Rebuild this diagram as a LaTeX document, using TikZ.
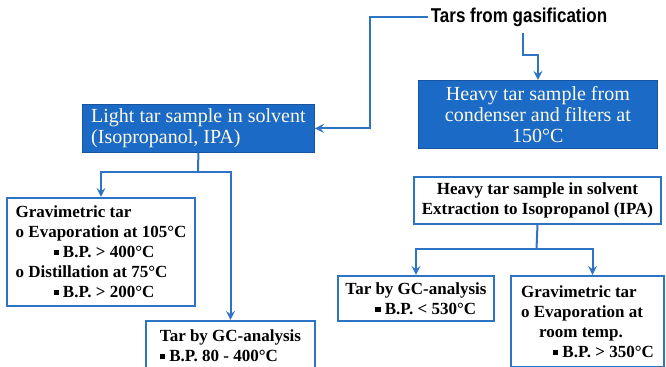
\documentclass[tikz,border=0pt]{standalone}
\usepackage{fontspec}
\usepackage{graphicx}
\setmainfont{Liberation Serif}
\newfontfamily\headfont{Liberation Sans}
\usetikzlibrary{arrows}

\definecolor{boxblue}{RGB}{26,106,198}
\definecolor{boxedge}{RGB}{22,84,160}
\definecolor{lineblue}{RGB}{46,116,196}
\definecolor{boxtext}{RGB}{255,250,232}

% small square bullet
\newcommand{\sqbul}{\rule[0.3ex]{0.65ex}{0.65ex}\ }

\tikzset{
  bluebox/.style={draw=boxedge, fill=boxblue, text=boxtext, anchor=north west,
    inner sep=2pt, font=\fontsize{10}{10.5}\selectfont},
  whitebox/.style={draw=lineblue, line width=1pt, fill=white, anchor=north west,
    inner sep=2pt, align=left, font=\fontsize{8.5}{10}\selectfont\bfseries},
  link/.style={draw=lineblue, line width=1pt, ->}
}

\begin{document}
\begin{tikzpicture}[x=0.5pt, y=-0.5pt, >=stealth]
  \useasboundingbox (0,0) rectangle (666,367);

  % Source
  \node[font=\headfont\fontsize{10}{11}\selectfont\bfseries, inner xsep=1pt] (title) at (519,17)
    {\scalebox{0.85}[1]{Tars from gasification}};

  % Samples
  \node[bluebox, align=left, minimum width=116pt, minimum height=24pt] (light) at (82,104)
    {Light tar sample in solvent\\(Isopropanol, IPA)};
  \node[bluebox, align=center, minimum width=119.5pt, minimum height=34pt] (heavy) at (418,80)
    {Heavy tar sample from\\condenser and filters at\\150°C};
  \node[whitebox, align=center, minimum width=123.5pt, minimum height=23.5pt] (solvent) at (413,176)
    {Heavy tar sample in solvent\\Extraction to Isopropanol (IPA)};

  % Light tar analyses
  \node[whitebox, minimum width=94pt, minimum height=54pt] (gravL) at (6,197)
    {Gravimetric tar\\o Evaporation at 105°C\\\hspace*{19pt}\sqbul B.P. > 400°C\\o Distillation at 75°C\\\hspace*{19pt}\sqbul B.P. > 200°C};
  \node[whitebox, minimum width=84.5pt, minimum height=25pt] (gcL) at (145,320)
    {Tar by GC-analysis\\\sqbul B.P. 80 - 400°C};

  % Heavy tar analyses
  \node[whitebox, minimum width=78pt, minimum height=22.5pt] (gcR) at (337,275)
    {Tar by GC-analysis\\\hspace*{15pt}\sqbul B.P. < 530°C};
  \node[whitebox, minimum width=76.5pt, minimum height=45.5pt] (gravR) at (510,275)
    {Gravimetric tar\\o Evaporation at\\\hspace*{9pt}room temp.\\\hspace*{16pt}\sqbul B.P. > 350°C};

  % Connectors
  \coordinate (tl) at (370,17);
  \coordinate (tr) at (523,55);
  \coordinate (ls) at (198,172);
  \coordinate (hs) at (536.5,249);

  \draw[link] (title.west) -- (tl) |- (light.east);
  \draw[link] (title.south -| tr) -- (tr) -| (heavy.north);

  \draw[lineblue, line width=1pt] (light.south) -- (ls);
  \draw[link] (ls) -| (gravL.north);
  \draw[link] (ls) -| (gcL.north);

  \draw[lineblue, line width=1pt] (solvent.south) -- (hs);
  \draw[link] (hs) -| (gcR.north);
  \draw[link] (hs) -| ([xshift=2.5pt]gravR.north);
\end{tikzpicture}
\end{document}
